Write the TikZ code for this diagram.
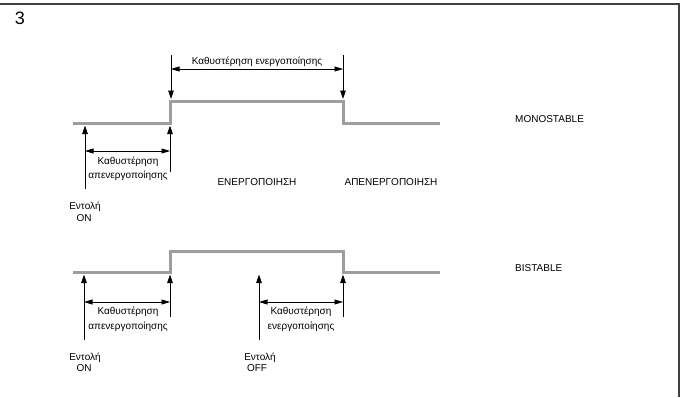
\documentclass[tikz,border=0pt]{standalone}
\usepackage{fontspec}
\setmainfont{Liberation Sans}
\usetikzlibrary{arrows.meta}
\begin{document}
\begin{tikzpicture}[x=1pt,y=-1pt,
  frame/.style={draw=black!75,line width=1.4pt},
  sig/.style={draw=black!38,line width=3pt,line join=miter},
  dim/.style={draw=black,line width=0.8pt,-{Triangle[length=8.5pt,width=5.5pt]}},
  ddim/.style={draw=black,line width=0.8pt,{Triangle[length=8.5pt,width=5pt]}-{Triangle[length=8.5pt,width=5pt]}},
  lbl/.style={font=\fontsize{10}{12}\selectfont,inner sep=0pt,anchor=base},
  lblw/.style={lbl,anchor=base west}]
\useasboundingbox (0,0) rectangle (683,397);
\draw[frame] (0,4) -- (679,4) -- (679,397);
\node[lbl,font=\fontsize{18}{20}\selectfont] (num) at (20,24.5) {3};

% ---------- MONOSTABLE ----------
\draw[sig] (73,123) -- (170,123) -- (170,101) -- (343,101) -- (343,123) -- (440,123);
\coordinate (mA1) at (171,55); \coordinate (mA2) at (171,99);
\coordinate (mB1) at (343,55); \coordinate (mB2) at (343,99);
\coordinate (mT1) at (171,69); \coordinate (mT2) at (343,69);
\draw[dim] (mA1) -- (mA2);
\draw[dim] (mB1) -- (mB2);
\draw[ddim] (mT1) -- (mT2);
\node[lbl] (mtop) at (257,64.3) {Καθυστέρηση ενεργοποίησης};

\coordinate (mC1) at (85,189); \coordinate (mC2) at (85,125.5);
\coordinate (mD1) at (170,172); \coordinate (mD2) at (170,125.5);
\coordinate (mL1) at (85,151); \coordinate (mL2) at (170,151);
\draw[dim] (mC1) -- (mC2);
\draw[dim] (mD1) -- (mD2);
\draw[ddim] (mL1) -- (mL2);
\node[lbl] (mk1) at (128,164.6) {Καθυστέρηση};
\node[lbl] (mk2) at (128,178.7) {απενεργοποίησης};
\node[lbl] (men) at (257,185.3) {ΕΝΕΡΓΟΠΟΙΗΣΗ};
\node[lbl] (map) at (391,185.3) {ΑΠΕΝΕΡΓΟΠΟΙΗΣΗ};
\node[lbl] (mcmd) at (85,209.6) {Εντολή};
\node[lbl] (mon) at (84,221.6) {ON};
\node[lblw] (mono) at (515,122.6) {MONOSTABLE};

% ---------- BISTABLE ----------
\draw[sig] (73,272) -- (170,272) -- (170,251) -- (343,251) -- (343,272) -- (440,272);
\coordinate (bC1) at (84,340); \coordinate (bC2) at (84,274.5);
\coordinate (bD1) at (170,317); \coordinate (bD2) at (170,274.5);
\coordinate (bL1) at (84,302); \coordinate (bL2) at (170,302);
\draw[dim] (bC1) -- (bC2);
\draw[dim] (bD1) -- (bD2);
\draw[ddim] (bL1) -- (bL2);
\node[lbl] (bk1) at (128,314.3) {Καθυστέρηση};
\node[lbl] (bk2) at (128,329.4) {απενεργοποίησης};

\coordinate (bE1) at (259,340); \coordinate (bE2) at (259,274.5);
\coordinate (bF1) at (343,317); \coordinate (bF2) at (343,274.5);
\coordinate (bM1) at (259,302); \coordinate (bM2) at (343,302);
\draw[dim] (bE1) -- (bE2);
\draw[dim] (bF1) -- (bF2);
\draw[ddim] (bM1) -- (bM2);
\node[lbl] (bk3) at (301,314.3) {Καθυστέρηση};
\node[lbl] (bk4) at (301,329.4) {ενεργοποίησης};

\node[lbl] (bcmd1) at (85,360.6) {Εντολή};
\node[lbl] (bon) at (84,371.1) {ON};
\node[lbl] (bcmd2) at (260,360.6) {Εντολή};
\node[lbl] (boff) at (257,371.1) {OFF};
\node[lblw] (bist) at (515,271.6) {BISTABLE};
\end{tikzpicture}
\end{document}
